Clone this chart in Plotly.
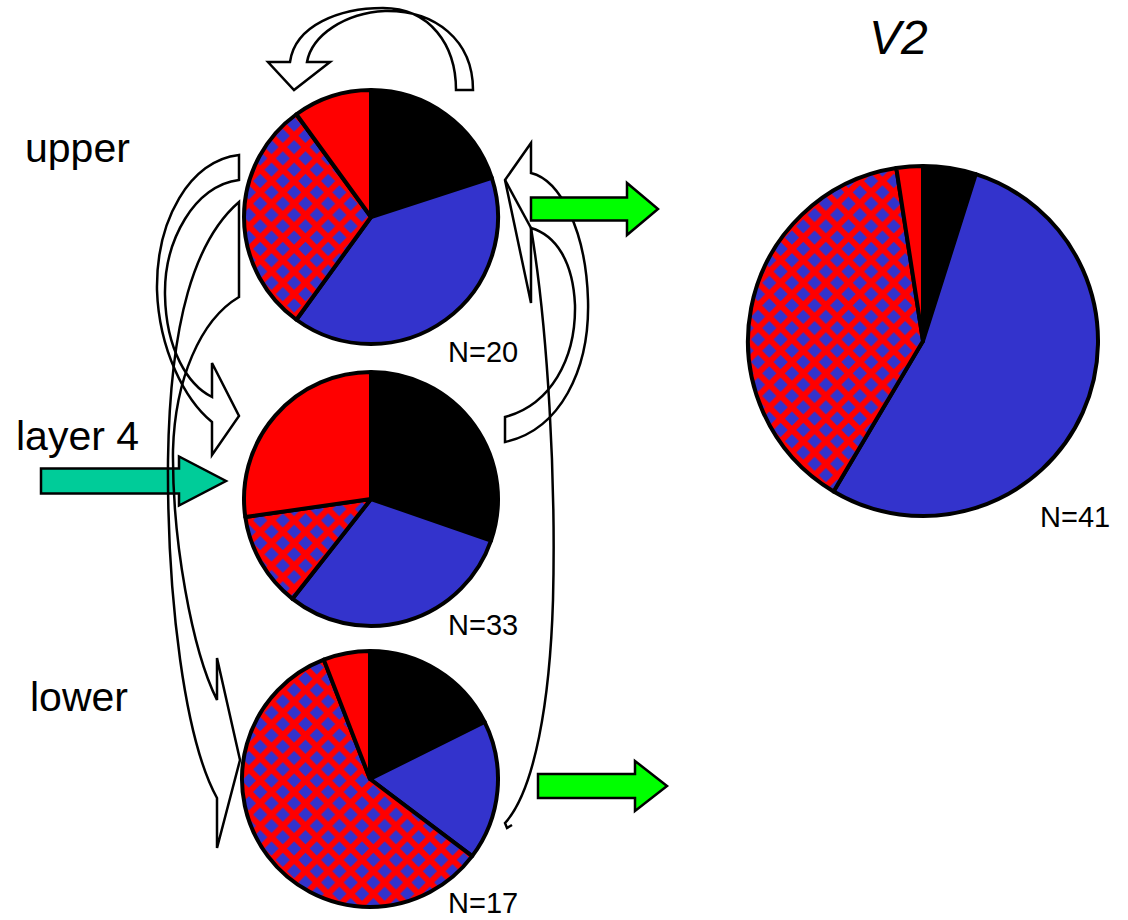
import plotly.graph_objects as go

# Canvas size in pixels
W, H = 1128, 920

# Cell-class composition of each population (slices clockwise from 12 o'clock)
slice_names = ["black", "blue", "mixed", "red"]
upper_counts = [4, 8, 6, 2]
layer4_counts = [10, 10, 4, 9]
lower_counts = [3, 3, 10, 1]
v2_counts = [2, 22, 16, 1]

row_titles = ["upper", "layer 4", "lower"]
area_title = "V2"

BLACK = "#000000"
BLUE = "#3333CC"
RED = "#FF0000"
TEAL = "#00CC99"
GREEN = "#00FF00"
FONT = "Liberation Sans, Arial, sans-serif"


def px(x, y):
    """Pixel position (origin top-left) -> paper coordinates."""
    return f"{x / W:.5f},{1 - y / H:.5f}"


def pie(values, cx, cy, r):
    return go.Pie(
        values=values,
        labels=slice_names,
        sort=False,
        direction="clockwise",
        rotation=0,
        textinfo="none",
        hoverinfo="label+value",
        showlegend=False,
        marker=dict(
            colors=[BLACK, BLUE, BLUE, RED],
            line=dict(color="black", width=4),
            pattern=dict(
                shape=["", "", "x", ""],
                fgcolor=RED,
                bgcolor=[BLACK, BLUE, BLUE, RED],
                size=16,
                solidity=0.6,
                fillmode="replace",
            ),
        ),
        domain=dict(x=[(cx - r) / W, (cx + r) / W], y=[1 - (cy + r) / H, 1 - (cy - r) / H]),
    )


def path(cmds):
    parts = []
    for cmd, pts in cmds:
        parts.append(cmd + " ".join(px(*p) for p in pts))
    return " ".join(parts)


def shape(cmds, fill="rgba(0,0,0,0)", width=2.5):
    return dict(
        type="path", xref="paper", yref="paper", path=path(cmds),
        fillcolor=fill, line=dict(color="black", width=width), layer="above",
    )


def block_arrow(x0, x1, xt, ymid, shaft_half, head_half, fill):
    pts = [(x0, ymid - shaft_half), (x1, ymid - shaft_half), (x1, ymid - head_half), (xt, ymid),
           (x1, ymid + head_half), (x1, ymid + shaft_half), (x0, ymid + shaft_half)]
    return shape([("M", [pts[0]])] + [("L", [p]) for p in pts[1:]] + [("Z", [])], fill=fill, width=2.5)


pies = [
    (upper_counts, 371, 217, 127),
    (layer4_counts, 371, 499, 127),
    (lower_counts, 370, 779, 128),
    (v2_counts, 923, 341, 175),
]

fig = go.Figure([pie(v, cx, cy, r) for v, cx, cy, r in pies])

shapes = []
# input to layer 4
shapes.append(block_arrow(41, 179, 226, 481, 12.5, 24.5, TEAL))

# loop over the top of the upper population
shapes.append(shape([
    ("M", [(473, 90)]), ("L", [(456, 90)]),
    ("C", [(456, 45), (430, 8), (383, 8)]),
    ("C", [(340, 8), (295, 25), (290, 62)]),
    ("L", [(268, 62)]), ("L", [(294, 90)]), ("L", [(330, 62)]), ("L", [(307, 62)]),
    ("C", [(312, 35), (345, 13), (385, 11)]),
    ("C", [(435, 10), (473, 40), (473, 90)]),
    ("Z", []),
], fill="white"))

# upper -> layer 4 (left side)
shapes.append(shape([
    ("M", [(239, 155)]),
    ("C", [(190, 160), (156, 220), (157, 290)]),
    ("C", [(159, 350), (185, 400), (212, 422)]),
    ("L", [(212, 455)]), ("L", [(239, 416)]), ("L", [(212, 363)]), ("L", [(212, 397)]),
    ("C", [(188, 385), (166, 350), (165, 295)]),
    ("C", [(164, 240), (195, 185), (239, 180)]),
    ("Z", []),
]))

# upper -> lower (left side)
shapes.append(shape([
    ("M", [(239, 202)]),
    ("C", [(195, 240), (170, 320), (168, 460)]),
    ("C", [(167, 600), (185, 740), (217, 798)]),
    ("L", [(217, 848)]), ("L", [(240, 760)]), ("L", [(217, 658)]), ("L", [(217, 700)]),
    ("C", [(192, 650), (172, 540), (173, 450)]),
    ("C", [(175, 380), (200, 320), (239, 297)]),
    ("Z", []),
]))

# layer 4 -> upper (right side)
shapes.append(shape([
    ("M", [(505, 442)]),
    ("C", [(560, 430), (590, 370), (588, 300)]),
    ("C", [(586, 230), (560, 180), (531, 173)]),
    ("L", [(531, 143)]), ("L", [(505, 180)]), ("L", [(531, 303)]), ("L", [(531, 228)]),
    ("C", [(555, 235), (573, 260), (575, 305)]),
    ("C", [(576, 360), (550, 405), (505, 417)]),
    ("Z", []),
]))
shapes.append(shape([("M", [(505, 180)]), ("L", [(531, 228)])]))

# lower -> upper (right side)
shapes.append(shape([
    ("M", [(531, 228)]),
    ("C", [(548, 330), (556, 480), (553, 600)]),
    ("C", [(550, 700), (535, 790), (505, 823)]),
    ("L", [(507, 828)]), ("L", [(512, 825)]),
]))

# outputs to V2
shapes.append(block_arrow(531, 627, 658, 209, 11.5, 26, GREEN))
shapes.append(block_arrow(538, 635, 667, 786, 12, 25, GREEN))

annotations = []


def label(text, x, y, size, italic=False):
    annotations.append(dict(
        text=f"<i>{text}</i>" if italic else text,
        x=x / W, y=1 - y / H, xref="paper", yref="paper",
        xanchor="center", yanchor="middle", showarrow=False,
        font=dict(family=FONT, size=size, color="black"),
    ))


label(row_titles[0], 77, 148, 41)
label(row_titles[1], 77, 436, 41)
label(row_titles[2], 79, 697, 41)
label(area_title, 898, 38, 48, italic=True)

n_positions = [(483, 352), (483, 625), (483, 903), (1075, 517)]
for (vals, *_), (nx, ny) in zip(pies, n_positions):
    label(f"N={sum(vals)}", nx, ny, 29)

fig.update_layout(
    width=W, height=H,
    margin=dict(l=0, r=0, t=0, b=0),
    paper_bgcolor="white",
    plot_bgcolor="white",
    shapes=shapes,
    annotations=annotations,
    showlegend=False,
)

fig.write_html("out.html")
